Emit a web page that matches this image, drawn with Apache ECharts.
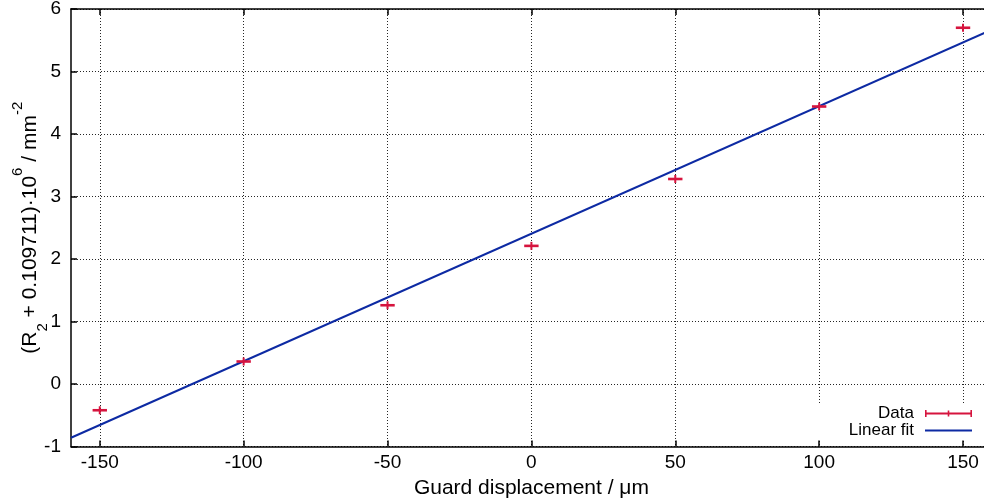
<!DOCTYPE html>
<html>
<head>
<meta charset="utf-8">
<script src="https://cdn.jsdelivr.net/npm/echarts@6/dist/echarts.min.js"></script>
<style>
  html, body { margin: 0; padding: 0; background: #fff; }
  #chart { width: 984px; height: 504px; }
</style>
</head>
<body>
<div id="chart"></div>
<script>
// Guard displacement (µm) and measured (R2 + 0.109711)·10^6 values
const displacement = [-150, -100, -50, 0, 50, 100, 150];
const rValues = [-0.42, 0.36, 1.26, 2.21, 3.28, 4.44, 5.70];
const displacementErr = [2.5, 2.5, 2.5, 2.5, 2.5, 2.5, 2.5];

// Linear fit end points across the x range
const fitX = [-160, 160];
const fitY = [-0.86, 5.67];

// Axis ticks
const xTicks = [-150, -100, -50, 0, 50, 100, 150];
const yTicks = [-1, 0, 1, 2, 3, 4, 5, 6];

const RED = '#d6143e';
const BLUE = '#0d2aa3';
const FONT = 'Liberation Sans';

const dataRows = displacement.map((x, i) => [x, rValues[i], displacementErr[i]]);
const fitRows = fitX.map((x, i) => [x, fitY[i]]);

// legend glyphs: error bar with end caps and centre mark, and a plain line
const ICON_DATA = 'path://M0,0h0.01v0.01h-0.01Z M47,12h-0.01v-0.01h0.01Z ' +
  'M0,5.1H47V6.9H0Z M0,2.5H1.6V9.5H0Z M45.4,2.5H47V9.5H45.4Z M22.7,3H24.3V9H22.7Z';
const ICON_FIT = 'path://M0,0h0.01v0.01h-0.01Z M47,12h-0.01v-0.01h0.01Z M0,5.1H47V6.9H0Z';

const gridLine = { show: true, lineStyle: { color: '#000', width: 1, type: [1, 2], opacity: 0.85 } };
const axisLine = { show: true, onZero: false, lineStyle: { color: '#000', width: 1.5 } };

const chart = echarts.init(document.getElementById('chart'), null, { renderer: 'canvas' });
chart.setOption({
  animation: false,
  backgroundColor: '#fff',
  grid: { left: 71, right: -7.8, top: 9, bottom: 57.5, containLabel: false, outerBoundsMode: 'none' },
  xAxis: [{
    type: 'value',
    min: -160, max: 160,
    name: 'Guard displacement / μm',
    nameLocation: 'middle',
    nameGap: 31,
    nameMoveOverlap: false,
    nameTextStyle: { fontFamily: FONT, fontSize: 21, color: '#000' },
    axisLine: axisLine,
    axisTick: { show: true, inside: true, length: 6, customValues: xTicks, lineStyle: { color: '#000', width: 1.5 } },
    axisLabel: { show: true, customValues: xTicks, margin: 7, fontFamily: FONT, fontSize: 19, color: '#000' },
    splitLine: gridLine
  }, {
    type: 'value',
    position: 'top',
    min: -160, max: 160,
    axisLine: axisLine,
    axisTick: { show: true, inside: true, length: 6, customValues: xTicks, lineStyle: { color: '#000', width: 1.5 } },
    axisLabel: { show: false, customValues: xTicks },
    splitLine: { show: false }
  }],
  yAxis: {
    type: 'value',
    min: yTicks[0], max: yTicks[yTicks.length - 1], interval: 1,
    name: '(R{sub|2} + 0.109711)·10{sup|6} / mm{sup|-2}',
    nameLocation: 'middle',
    nameGap: 21,
    nameMoveOverlap: false,
    nameTextStyle: {
      fontFamily: FONT, fontSize: 21, color: '#000', lineHeight: 40,
      rich: {
        sub: { fontFamily: FONT, fontSize: 15, color: '#000', lineHeight: 32, verticalAlign: 'bottom' },
        sup: { fontFamily: FONT, fontSize: 15, color: '#000', lineHeight: 20, verticalAlign: 'top' }
      }
    },
    axisLine: axisLine,
    axisTick: { show: true, inside: true, length: 6, lineStyle: { color: '#000', width: 1.5 } },
    axisLabel: { margin: 10, fontFamily: FONT, fontSize: 19, color: '#000' },
    splitLine: gridLine
  },
  legend: {
    orient: 'vertical',
    right: 0,
    bottom: 65,
    align: 'right',
    itemWidth: 47,
    itemHeight: 12,
    itemGap: 0,
    padding: [0, 12, 0, 40],
    backgroundColor: '#fff',
    selectedMode: false,
    textStyle: { fontFamily: FONT, fontSize: 17, color: '#000', lineHeight: 16.3, padding: [0, 6, 0, 0] },
    data: [
      { name: 'Data', icon: ICON_DATA, itemStyle: { color: RED } },
      { name: 'Linear fit', icon: ICON_FIT, itemStyle: { color: BLUE } }
    ]
  },
  series: [{
    name: 'Linear fit',
    type: 'line',
    data: fitRows,
    showSymbol: false,
    color: BLUE,
    lineStyle: { color: BLUE, width: 2 },
    z: 3
  }, {
    name: 'Data',
    type: 'custom',
    color: RED,
    data: dataRows,
    encode: { x: 0, y: 1 },
    z: 4,
    renderItem: function (params, api) {
      const x = api.value(0), y = api.value(1), e = api.value(2);
      const c = api.coord([x, y]);
      const l = api.coord([x - e, y]);
      const r = api.coord([x + e, y]);
      return {
        type: 'group',
        children: [
          { type: 'line', shape: { x1: l[0], y1: c[1], x2: r[0], y2: c[1] }, style: { stroke: RED, lineWidth: 2.6, fill: null } },
          { type: 'line', shape: { x1: c[0], y1: c[1] - 4, x2: c[0], y2: c[1] + 4 }, style: { stroke: RED, lineWidth: 2, fill: null } }
        ]
      };
    }
  }]
});
</script>
</body>
</html>
